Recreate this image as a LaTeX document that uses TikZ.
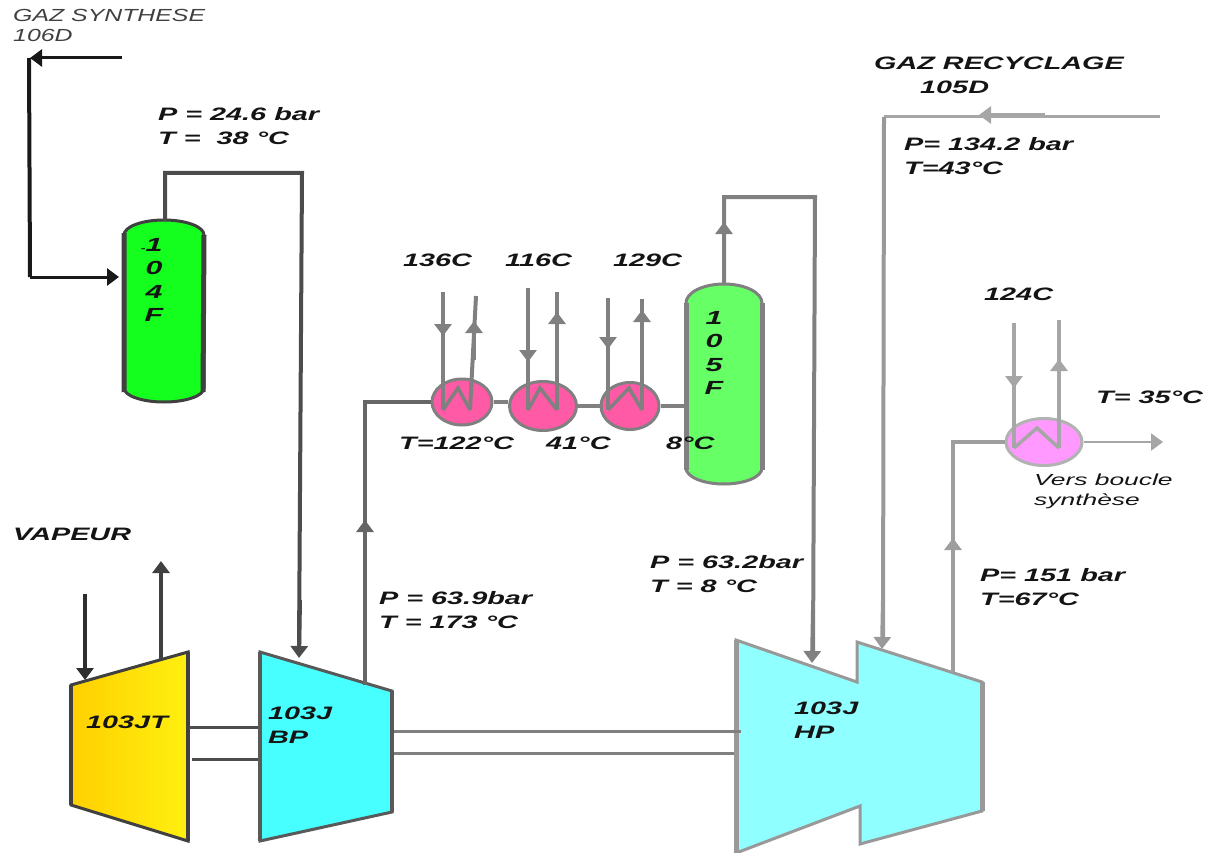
\documentclass[tikz,border=0pt]{standalone}
\usepackage{fontspec}
\setmainfont[FakeStretch=1.6]{Liberation Sans}
\newfontfamily\thinfont[FakeStretch=1.42]{Liberation Sans}
\newfontfamily\widefont[FakeStretch=1.65]{Liberation Sans}
\usetikzlibrary{arrows.meta,shapes.geometric}
\definecolor{green104}{HTML}{14FF1E}
\definecolor{green105}{HTML}{66FF66}
\definecolor{jtleft}{HTML}{FFD000}
\definecolor{jtright}{HTML}{FFF010}
\definecolor{cyanbp}{HTML}{48FFFF}
\definecolor{cyanhp}{HTML}{90FFFF}
\definecolor{pinkex}{HTML}{FF5AA5}
\definecolor{pinkex2}{HTML}{FF99FF}

\begin{document}
\begin{tikzpicture}[x=1pt,y=-1pt,
  lbl/.style={anchor=west, inner sep=0pt, align=left, text=black!92,
              font=\fontsize{18}{24}\selectfont\bfseries\itshape},
  thin lbl/.style={lbl, font=\fontsize{17.5}{20}\selectfont\thinfont\itshape},
  small lbl/.style={lbl, font=\fontsize{16}{20}\selectfont\widefont\itshape},
  vert lbl/.style={lbl, anchor=center, align=center,
                   font=\fontsize{19}{23.5}\selectfont\bfseries\itshape},
  arr/.style={-{Triangle[length=12pt,width=17pt]}, line width=4pt},
  pipe/.style={line width=4pt},
  exch/.style={ellipse, inner sep=0pt, line width=3pt, draw=black!50, fill=#1},
  coil/.style={line width=3.5pt, draw=black!50, line join=miter},
  vessel/.style={line width=3pt},
  comp/.style={line width=3pt, line join=miter}]

\useasboundingbox (0,0) rectangle (1209,853);

% separateurs
\coordinate (top104) at (165,221);
\coordinate (in104) at (119,277);
\draw[vessel, draw=black!75, fill=green104]
  (124,235) arc[start angle=180,end angle=360,x radius=40,y radius=15] -- (204,388)
  arc[start angle=0,end angle=180,x radius=40,y radius=14] -- cycle;
\draw[line width=5pt, draw=black!75] (124,233) -- (124,392) (204,235) -- (203,392);
\node[vert lbl] (l104) at (154,280) {\llap{\fontsize{9}{9}\selectfont -}1\\0\\4\\F};

\coordinate (top105) at (724,284);
\draw[vessel, draw=black!50, fill=green105]
  (686,303) arc[start angle=180,end angle=360,x radius=38,y radius=19] -- (762,468)
  arc[start angle=0,end angle=180,x radius=38,y radius=16] -- cycle;
\draw[line width=5pt, draw=black!50] (686,303) -- (686,470) (762,303) -- (762,470);
\node[vert lbl] (l105) at (714,353) {1\\0\\5\\F};

% turbine et compresseurs
\coordinate (jtin) at (85,680);
\coordinate (jtout) at (161,659);
\coordinate (bpin) at (299,658);
\coordinate (bpout) at (365,685);
\coordinate (hpin) at (812,663);
\coordinate (hpin2) at (882,649);
\coordinate (hpout) at (953,672);
\draw[comp, draw=black!75, left color=jtleft, right color=jtright]
  (71,685) -- (188,652) -- (188,841) -- (71,805) -- cycle;
\draw[line width=4.5pt, draw=black!75] (71,685) -- (71,805) (188,652) -- (188,841);
\draw[comp, draw=black!65, fill=cyanbp]
  (260,652) -- (392,691) -- (392,812) -- (260,841) -- cycle;
\draw[line width=4.5pt, draw=black!65] (260,652) -- (260,841) (392,691) -- (392,812);
\draw[comp, draw=black!40, fill=cyanhp]
  (736,640) -- (857,682) -- (857,642) -- (982,682) -- (982,811)
  -- (860,844) -- (860,806) -- (736,853) -- cycle;
\draw[line width=5pt, draw=black!40] (736,640) -- (736,853) (982,682) -- (982,811);

% arbres
\coordinate (sh1a) at (189,727);
\coordinate (sh1b) at (258,727);
\coordinate (sh2a) at (192,759);
\coordinate (sh2b) at (258,759);
\coordinate (sh3a) at (394,731);
\coordinate (sh3b) at (741,731);
\coordinate (sh4a) at (394,753);
\coordinate (sh4b) at (734,753);
\draw[line width=3pt, draw=black!70] (sh1a) -- (sh1b);
\draw[line width=3pt, draw=black!70] (sh2a) -- (sh2b);
\draw[line width=3pt, draw=black!50] (sh3a) -- (sh3b);
\draw[line width=3pt, draw=black!50] (sh4a) -- (sh4b);

% echangeurs
\node[exch=pinkex, minimum width=60pt, minimum height=46pt] (e1) at (462,402) {};
\node[exch=pinkex, minimum width=67pt, minimum height=49pt] (e2) at (543,406) {};
\node[exch=pinkex, minimum width=58pt, minimum height=47pt] (e3) at (630,406) {};
\node[exch=pinkex2, minimum width=76pt, minimum height=47pt, draw=black!30] (e4) at (1044,442) {};
\coordinate (v105in) at (686,406);
\draw[pipe, draw=black!60] (bpout) |- (e1.west);
\draw[arr, draw=black!60] (bpout) -- (365,520);
\draw[pipe, draw=black!50] (e1.east) -- (e1.east -| e2.west);
\draw[pipe, draw=black!50] (e2.east) -- (e3.west);
\draw[pipe, draw=black!50] (e3.east) -- (v105in);

% eau de refroidissement
\foreach \xa/\ya/\ta/\xb/\yb/\tb/\xc/\xd/\xe in {
    443/292/336/474/296/321/458/470/476,
    528/288/362/557/292/312/540/557/557,
    608/298/349/642/299/310/629/642/642}{
  \draw[coil] (\xa,410) -- (\xc,388) -- (\xd,410);
  \draw[pipe, draw=black!50] (\xa,\ya) -- (\xa,410);
  \draw[arr, draw=black!50] (\xa,\ya) -- (\xa,\ta);
  \draw[pipe, draw=black!50] (\xe,\yb) -- (\xd,410);
  \draw[arr, draw=black!50] (\xb,360) -- (\xb,\tb);
}
\coordinate (c4in) at (1014,323);
\coordinate (c4out) at (1059,320);
\coordinate (c4a) at (1014,448);
\coordinate (c4b) at (1037,428);
\coordinate (c4c) at (1059,448);
\draw[coil, draw=black!35] (c4a) -- (c4b) -- (c4c);
\draw[pipe, draw=black!35] (c4in) -- (c4a);
\draw[pipe, draw=black!35] (c4out) -- (c4c);
\draw[arr, draw=black!35] (c4in) -- (1014,388);
\draw[arr, draw=black!35] (1059,400) -- (1059,359);

% lignes de gaz
\coordinate (syn0) at (122,58);
\coordinate (syn1) at (30,58);
\coordinate (syn2) at (30,277);
\draw[arr, line width=3pt, draw=black!90] (syn0) -- (syn1);
\draw[line width=4pt, draw=black!90] (29,58) -- (syn2);
\draw[arr, line width=3pt, draw=black!90] (syn2) -- (in104);

\draw[pipe, draw=black!70] (top104) -- (165,173) -- (302,173) -- (299,650);
\draw[arr, draw=black!70] (300,600) -- (bpin);

\draw[pipe, draw=black!50] (top105) -- (724,197) -- (815,197) -- (813,655);
\draw[arr, draw=black!50] (724,250) -- (724,222);
\draw[arr, draw=black!50] (813,610) -- (hpin);

\coordinate (rec0) at (1160,117);
\coordinate (rec1) at (884,117);
\draw[line width=3pt, draw=black!35] (rec0) -- (rec1);
\draw[arr, line width=3pt, draw=black!35] (1045,115) -- (979,115);
\draw[pipe, draw=black!40] (rec1) -- (883,640);
\draw[arr, draw=black!40] (883,600) -- (hpin2);

\draw[pipe, draw=black!38] (hpout) |- (e4.west);
\draw[arr, draw=black!38] (953,580) -- (953,538);
\coordinate (loop) at (1163,442);
\draw[arr, line width=2.5pt, draw=black!35] (e4.east) -- (loop);

% vapeur
\draw[arr, draw=black!82] (85,594) -- (jtin);
\draw[arr, draw=black!75] (jtout) -- (161,561);

% textes
\node[thin lbl, text=black!75] (syn) at (13,25) {GAZ SYNTHESE\\106D};
\node[lbl] (p104) at (158,126) {P = 24.6 bar\\T = \ 38 °C};
\node[lbl] (rec) at (874,63) {GAZ RECYCLAGE};
\node[lbl] (recd) at (920,87) {105D};
\node[lbl] (p105d) at (904,156) {P= 134.2 bar\\T=43°C};
\node[lbl] (t136) at (403,260) {136C};
\node[lbl] (t116) at (505,260) {116C};
\node[lbl] (t129) at (613,260) {129C};
\node[lbl] (t124) at (984,294) {124C};
\node[lbl] (t122) at (399,443) {T=122°C};
\node[lbl] (t41) at (546,443) {41°C};
\node[lbl] (t8) at (666,443) {8°C};
\node[lbl] (t35) at (1096,397) {T= 35°C};
\node[small lbl] (boucle) at (1034,491) {Vers boucle\\synthèse};
\node[lbl] (vap) at (13,534) {VAPEUR};
\node[lbl] (pbp) at (379,610) {P = 63.9bar\\T = 173 °C};
\node[lbl] (php) at (650,574) {P = 63.2bar\\T = 8 °C};
\node[lbl] (pout) at (980,587) {P= 151 bar\\T=67°C};
\node[lbl] (jt) at (86,722) {103JT};
\node[lbl] (bp) at (268,725) {103J\\BP};
\node[lbl] (hp) at (794,720) {103J\\HP};

\end{tikzpicture}
\end{document}
